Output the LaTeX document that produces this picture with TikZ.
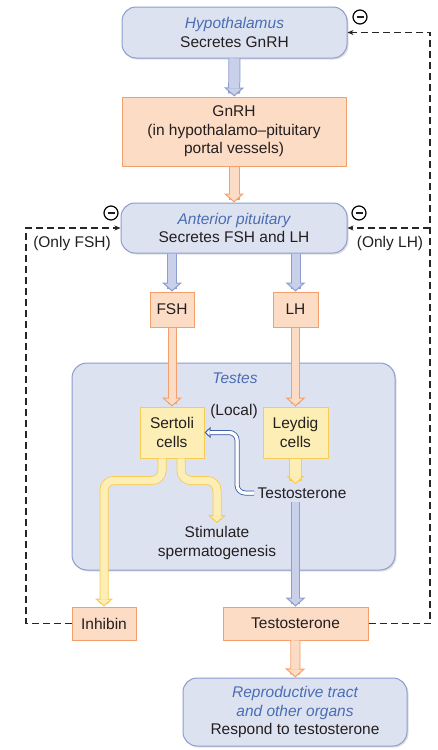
\documentclass[tikz,border=0pt]{standalone}
\usepackage{fontspec}
\setmainfont{Liberation Sans}
\usetikzlibrary{arrows.meta,shadows}

\definecolor{boxblue}{HTML}{DDE2F1}
\definecolor{lineblue}{HTML}{8C9DCF}
\definecolor{arrblue}{HTML}{C9D0EA}
\definecolor{boxorange}{HTML}{FDDCC5}
\definecolor{lineorange}{HTML}{F4A06C}
\definecolor{boxyellow}{HTML}{FDEEB5}
\definecolor{lineyellow}{HTML}{F7CC55}
\definecolor{txtblue}{HTML}{4A6DB3}
\definecolor{localblue}{HTML}{3E63AA}
\definecolor{ink}{HTML}{231F20}

\newcommand{\organname}[1]{{\color{txtblue}\itshape #1}}

\begin{document}
\begin{tikzpicture}[x=1pt, y=-1pt,
  every node/.style={font=\fontsize{15.5}{18.5}\selectfont, text=ink, align=center},
  organ/.style={rectangle, rounded corners=14pt, draw=lineblue, line width=1pt, fill=boxblue,
                drop shadow={shadow xshift=1.5pt, shadow yshift=-1.5pt, opacity=0.25}},
  hormone/.style={rectangle, draw=lineorange, line width=1pt, fill=boxorange, inner sep=0pt},
  cell/.style={rectangle, draw=lineyellow, line width=1pt, fill=boxyellow, inner sep=0pt},
  minus/.style={circle, draw=black, line width=1.2pt, fill=white, minimum size=14pt, inner sep=0pt},
  fb/.style={draw=black!85, line width=1.3pt, dash pattern=on 7pt off 4pt,
             -{Stealth[length=6pt, width=5pt]}},
  flow/.style n args={5}{line width=#3, draw=#1,
             -{Triangle[length=#5, width=#4, line width=1pt, fill=#1, color=#2]},
             preaction={draw=#2, line width=#3+2pt, -, shorten >=3pt},
             postaction={draw=#1, line width=#3, -, shorten >=#5-1pt}},
  blueflow/.style={flow={arrblue}{lineblue}{#1}{20pt}{9pt}},
  blueflow/.default=10pt,
  orangeflow/.style={flow={boxorange}{lineorange}{#1}{20pt}{9pt}},
  orangeflow/.default=9pt,
  yellowflow/.style={flow={boxyellow}{lineyellow}{#1}{18pt}{8pt}},
  yellowflow/.default=7pt,
  localflow/.style={flow={white}{localblue}{3pt}{11pt}{6pt}}
]
\useasboundingbox (0,0) rectangle (438,750);

% top of the axis
\node[organ, minimum width=225pt, minimum height=51pt] (hyp) at (234.5,32.5)
  {\organname{Hypothalamus}\\Secretes GnRH};
\node[hormone, minimum width=224pt, minimum height=69pt] (gnrh) at (234,131.5)
  {GnRH\\(in hypothalamo--pituitary\\portal vessels)};
\node[organ, minimum width=226pt, minimum height=50pt] (ant) at (234,228)
  {\organname{Anterior pituitary}\\Secretes FSH and LH};
\draw[blueflow] (hyp) -- (gnrh);
\draw[orangeflow] (gnrh) -- (ant);

\node[hormone, minimum width=44pt, minimum height=35pt] (fsh) at (172,309.5) {FSH};
\node[hormone, minimum width=45pt, minimum height=35pt] (lh) at (295.5,309.5) {LH};
\draw[blueflow=8pt] (ant.south -| fsh.north) -- (fsh.north);
\draw[blueflow=8pt] (ant.south -| lh.north) -- (lh.north);

% testes
\node[organ, rounded corners=15pt, minimum width=323pt, minimum height=207pt] (testes) at (233.5,466.5) {};
\node (testeslbl) at (235,378) {\organname{Testes}};
\node[cell, minimum width=64pt, minimum height=51pt] (sertoli) at (172,432.5) {Sertoli\\cells};
\node[cell, minimum width=65pt, minimum height=51pt] (leydig) at (295.5,432.5) {Leydig\\cells};
\node (local) at (234,411) {(Local)};
\node (testo) at (302,493) {Testosterone};
\node (stim) at (217,543) {Stimulate\\spermatogenesis};
\draw[orangeflow=7pt] (fsh) -- (sertoli);
\draw[orangeflow=7pt] (lh) -- (leydig);
\draw[yellowflow=11pt] (leydig.south) -- (leydig.south |- testo.north);
\draw[localflow, rounded corners=8pt] (testo.west) -- ++(-17,0) |- (sertoli.east);

% outputs
\node[hormone, minimum width=64pt, minimum height=33pt] (inhibin) at (104,623.5) {Inhibin};
\node[hormone, minimum width=145pt, minimum height=33pt] (testbox) at (295.5,623.5) {Testosterone};
\node[organ, minimum width=224pt, minimum height=68pt] (repro) at (295,712)
  {\organname{Reproductive tract}\\\organname{and other organs}\\Respond to testosterone};
\draw[yellowflow, rounded corners=10pt] ([xshift=-10pt]sertoli.south) -- ++(0,22) -| (inhibin.north);
\draw[yellowflow, rounded corners=10pt] ([xshift=9pt]sertoli.south) -- ++(0,22) -| (stim.north);
\draw[blueflow=7pt] (testo.south -| testbox.north) -- (testbox.north);
\draw[orangeflow=8pt] (testbox) -- (repro);

% negative feedback
\draw[fb] (inhibin.west) -| (26,228) -- (ant.west);
\draw[fb] (testbox.east) -- (430,623.5) |- (hyp.east);
\draw[fb] (430,228) -- (ant.east);
\node (onlyfsh) at (72,243) {(Only FSH)};
\node (onlylh) at (390,243) {(Only LH)};
\node[minus] (mhyp) at (360,17) {\rule{7pt}{1.8pt}};
\node[minus] (mfsh) at (111,213) {\rule{7pt}{1.8pt}};
\node[minus] (mlh) at (359,213) {\rule{7pt}{1.8pt}};
\end{tikzpicture}
\end{document}
